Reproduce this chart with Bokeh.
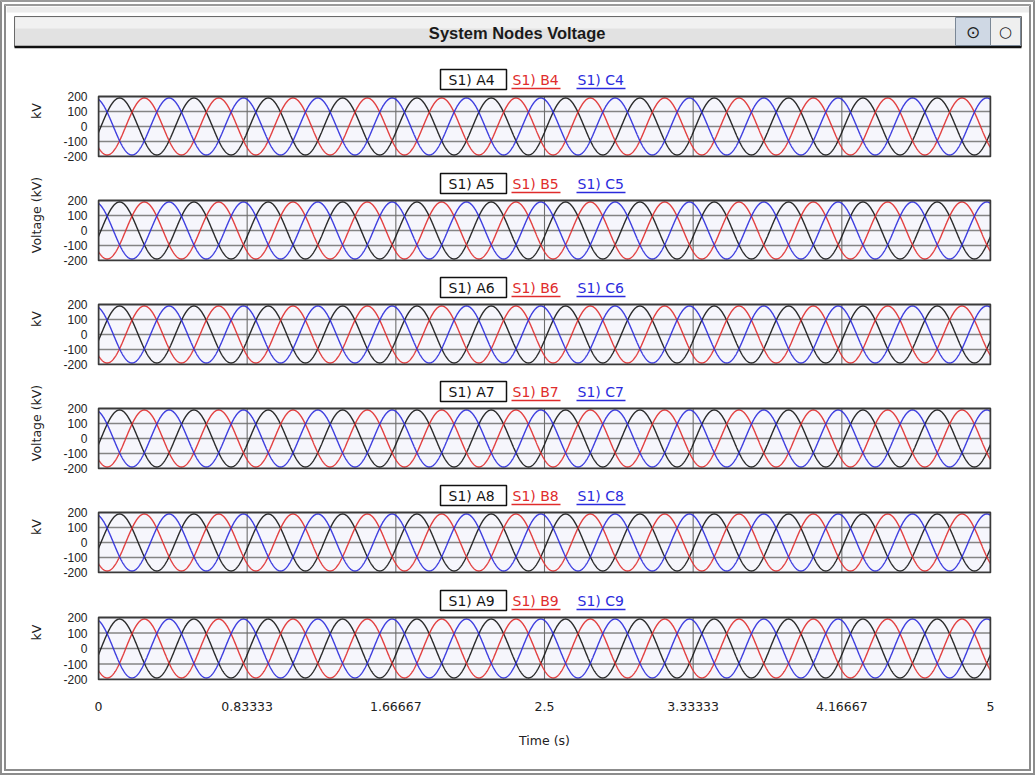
import numpy as np
from bokeh.plotting import figure
from bokeh.layouts import column
from bokeh.models import Range1d, FixedTicker
from bokeh.embed import file_html
from bokeh.resources import INLINE
from bokeh.core.properties import value

# ---------------- data ----------------
chart_title = "System  Nodes Voltage"
node_numbers = ["4", "5", "6", "7", "8", "9"]
phase_letters = ["A", "B", "C"]
y_axis_titles = ["kV", "Voltage (kV)", "kV", "Voltage (kV)", "kV", "kV"]
x_axis_title = "Time (s)"
x_tick_values = [0, 0.83333, 1.66667, 2.5, 3.33333, 4.16667, 5]
x_tick_labels = ["0", "0.83333", "1.66667", "2.5", "3.33333", "4.16667", "5"]
y_tick_values = [-200, -100, 0, 100, 200]
y_tick_labels = ["-200", "-100", "0", "100", "200"]
peak_voltage_kv = 190
apparent_frequency_hz = 2.4
phase_angle_deg = [-12, -132, -252]
time_start_s = 0.0
time_end_s = 5.0

# ---------------- style ----------------
phase_colors = ["#151515", "#e02c2c", "#2b2bdc"]
W = 1023                 # content width (page minus 6px side borders)
FL, FR = 91, 38          # frame borders (content px)
PLOT_W = W - FL - FR     # 894 px (1 px pad at each side of the 892 px box)
BOX_W = PLOT_W - 2
BG = "#f6f6fc"
TICK_FONT = "Liberation Sans"
LABEL_FONT = "DejaVu Sans"
T_SPAN = time_end_s - time_start_s
dt_px = T_SPAN / BOX_W

t = np.linspace(time_start_s, time_end_s, 3001)


def xd(page_x):
    """page pixel -> time for legend decorations"""
    return (page_x - 98) / BOX_W * T_SPAN


# ---------------- header ----------------
hdr = figure(width=W, height=54, output_backend="svg", toolbar_location=None,
             x_range=Range1d(0, W), y_range=Range1d(54, 0),
             min_border=0, border_fill_color="white", background_fill_color="white")
hdr.frame_align = False
hdr.axis.visible = False
hdr.grid.visible = False
hdr.outline_line_color = None
hdr.quad(left=[0], right=[W], top=[0], bottom=[6], fill_color="#ececec", line_color=None)
hdr.quad(left=[8], right=[1015], top=[10], bottom=[40], fill_color="#e2e2e2",
         line_color="#6a6a6a", line_width=1)
hdr.quad(left=[9], right=[1014], top=[11], bottom=[22], fill_color="#f1f1f1", line_color=None)
hdr.segment(x0=[8], y0=[40.5], x1=[1015], y1=[40.5], line_color="#111111", line_width=2.5)
hdr.quad(left=[949], right=[984], top=[11], bottom=[39], fill_color="#cfd8e4", line_color="#7a8796")
hdr.quad(left=[984], right=[1014], top=[11], bottom=[39], fill_color="#efefef", line_color="#7a8796")
hdr.text(x=[966.5], y=[25.5], text=["\u2299"], text_align="center", text_baseline="middle",
         text_font=value(LABEL_FONT), text_font_size="17px", text_color="#222222")
hdr.text(x=[999], y=[25.5], text=["\u25cb"], text_align="center", text_baseline="middle",
         text_font=value(LABEL_FONT), text_font_size="15px", text_color="#222222")
hdr.text(x=[513], y=[26], text=[chart_title], text_align="center", text_baseline="middle",
         text_font=value("Liberation Sans"), text_font_style="bold",
         text_font_size="16.5px", text_color="#1a1a1a")

figs = [hdr]
n_panels = len(node_numbers)
for i, node in enumerate(node_numbers):
    last = i == n_panels - 1
    box_px = 62 if last else 60
    legend_px = 33 if last else 32
    top_b = 4
    frame_h = legend_px + box_px + 1
    h = 189 if last else 104
    bottom_b = h - top_b - frame_h
    k = 400.0 / box_px  # data units per px
    p = figure(width=W, height=h, output_backend="svg", toolbar_location=None,
               x_range=Range1d(time_start_s - dt_px, time_end_s + dt_px),
               y_range=Range1d(-200 - k, 200 + legend_px * k),
               min_border_left=FL, min_border_right=FR, min_border_top=top_b,
               min_border_bottom=bottom_b, background_fill_color="white",
               border_fill_color="white")
    p.outline_line_color = None
    p.grid.visible = False

    # plot box background
    p.quad(left=[time_start_s], right=[time_end_s], bottom=[y_tick_values[0]],
           top=[y_tick_values[-1]], fill_color=BG, line_color=None)
    # grid lines
    p.segment(x0=[time_start_s] * 3, x1=[time_end_s] * 3, y0=y_tick_values[1:-1],
              y1=y_tick_values[1:-1], line_color="#848484", line_width=1.6)
    p.segment(x0=x_tick_values[1:-1], x1=x_tick_values[1:-1],
              y0=[y_tick_values[0]] * 5, y1=[y_tick_values[-1]] * 5,
              line_color="#6e6e6e", line_width=1.1)

    for kk, letter in enumerate(phase_letters):
        y = peak_voltage_kv * np.sin(2 * np.pi * apparent_frequency_hz * t
                                     + np.deg2rad(phase_angle_deg[kk]))
        p.line(t, y, line_color=phase_colors[kk], line_width=1.4, line_alpha=0.9)

    # plot box outline
    p.quad(left=[time_start_s], right=[time_end_s], bottom=[y_tick_values[0]],
           top=[y_tick_values[-1]], fill_color=None, line_color="#3a3a3a", line_width=2)

    # y axis
    p.yaxis.ticker = FixedTicker(ticks=y_tick_values)
    p.yaxis.major_label_overrides = {v: s for v, s in zip(y_tick_values, y_tick_labels)}
    p.yaxis.axis_line_color = None
    p.yaxis.major_tick_line_color = None
    p.yaxis.minor_tick_line_color = None
    p.yaxis.major_label_standoff = 4
    p.yaxis.major_label_text_font = TICK_FONT
    p.yaxis.major_label_text_font_size = "12px"
    p.yaxis.major_label_text_color = "#222222"
    p.yaxis.axis_label = y_axis_titles[i]
    p.yaxis.axis_label_text_font = LABEL_FONT
    p.yaxis.axis_label_text_font_size = "12.5px"
    p.yaxis.axis_label_text_font_style = "normal"
    p.yaxis.axis_label_text_color = "#222222"
    p.yaxis.axis_label_standoff = 16

    # x axis
    if last:
        p.xaxis.ticker = FixedTicker(ticks=x_tick_values)
        p.xaxis.major_label_overrides = {v: s for v, s in zip(x_tick_values, x_tick_labels)}
        p.xaxis.axis_line_color = None
        p.xaxis.major_tick_line_color = None
        p.xaxis.minor_tick_line_color = None
        p.xaxis.major_label_standoff = 15
        p.xaxis.major_label_text_font = LABEL_FONT
        p.xaxis.major_label_text_font_size = "12.5px"
        p.xaxis.major_label_text_color = "#222222"
        p.xaxis.axis_label = x_axis_title
        p.xaxis.axis_label_text_font = LABEL_FONT
        p.xaxis.axis_label_text_font_size = "12.5px"
        p.xaxis.axis_label_text_font_style = "normal"
        p.xaxis.axis_label_text_color = "#222222"
        p.xaxis.axis_label_standoff = 19
    else:
        p.xaxis.visible = False

    # series names above each panel
    names = [f"S1) {letter}{node}" for letter in phase_letters]
    starts = [448, 512, 577]
    p.text(x=[xd(s) for s in starts], y=[200 + 17 * k] * 3, text=names,
           text_color=phase_colors, text_align="left", text_baseline="middle",
           text_font=value(LABEL_FONT), text_font_size="14px")
    p.quad(left=[xd(440)], right=[xd(506)], bottom=[200 + 7 * k], top=[200 + 27 * k],
           fill_color=None, line_color="#111111", line_width=1.5)
    p.segment(x0=[xd(511), xd(576)], x1=[xd(560), xd(625)],
              y0=[200 + 8 * k] * 2, y1=[200 + 8 * k] * 2,
              line_color=phase_colors[1:], line_width=1.5)
    figs.append(p)

layout = column(*figs, spacing=0,
                styles={"border-left": "6px double #8c8c8c",
                        "border-right": "6px double #8c8c8c",
                        "border-top": "6px double #9a9a9a",
                        "border-bottom": "6px double #8c8c8c"})

open("out.html", "w").write(file_html(layout, INLINE))
